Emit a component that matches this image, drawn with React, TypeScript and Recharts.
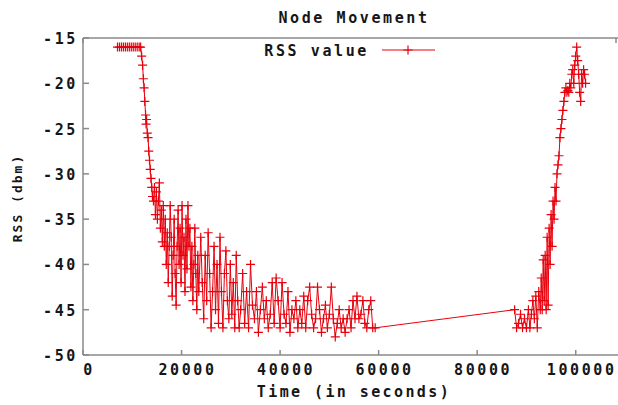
import { LineChart, Line, XAxis, YAxis } from 'recharts'

// Received signal strength logged while the node moves away and comes back
const TIME_S = [
  // parked close to the receiver
  7000, 7400, 7800, 8200, 8600, 9000, 9400, 9800, 10200, 10600, 11000, 11400, 11700, 11900,
  // moving away
  12100, 12250, 12400, 12550, 12700, 12800, 12900, 13050, 13200, 13350, 13500, 13650, 13800, 13950, 14100,
  14300, 14500, 14700, 14900, 15100, 15300, 15500, 15700, 15900, 16100,
  16300, 16500, 16700, 16900, 17100, 17300, 17500, 17700, 17900, 18100,
  18300, 18500, 18700, 18900, 19100, 19300, 19500, 19700, 19900, 20100,
  20300, 20500, 20700, 20900, 21100, 21300, 21500, 21700, 21900, 22100,
  22300, 22500, 22700, 22900, 23100, 23300, 23500,
  23900, 24200, 24500, 24800, 25100, 25400, 25700, 26000, 26300, 26600,
  26900, 27200, 27500, 27800, 28100, 28400, 28700, 29000, 29300, 29600,
  29900, 30200, 30500, 30800, 31100, 31400, 31700,
  // far end of the path
  32000, 32400, 32800, 33200, 33600, 34000, 34400, 34800, 35200, 35600,
  36000, 36400, 36800, 37200, 37600, 38000, 38400, 38800, 39200, 39600,
  40000, 40400, 40800, 41200, 41600, 42000, 42400, 42800, 43200, 43600,
  44000, 44400, 44800, 45200, 45600, 46000, 46400, 46800, 47200, 47600,
  48000, 48400, 48800, 49200, 49600, 50000, 50400, 50800, 51200, 51600,
  52000, 52400, 52800, 53200, 53600, 54000, 54400, 54800, 55200, 55600,
  56000, 56400, 56800, 57200, 57600, 58000, 58400, 58800, 59300,
  // logging resumes on the way back
  87600, 88000, 88400, 88800, 89200, 89600, 90000, 90400, 90700, 91000,
  91300, 91600, 91900, 92200, 92500, 92800, 93000, 93200, 93400, 93600,
  93800, 94000, 94200, 94400, 94600, 94800, 95000, 95200, 95400, 95600,
  95800, 96000, 96200, 96400, 96600, 96800, 97000, 97200, 97400, 97600,
  97800, 98000, 98200, 98400, 98600, 98800, 99000, 99200, 99400, 99600,
  99800, 100000, 100200, 100400, 100600, 100800, 101000, 101200, 101400, 101600,
  101800, 102000,
]

const RSS_DBM = [
  -16, -16, -16, -16, -16, -16, -16, -16, -16, -16, -16, -16, -16, -17,
  -18, -19.5, -20.5, -22, -23.5, -24.5, -24, -25.5, -26, -27.5, -28.5, -29.5, -30.5, -31.5, -32.5,
  -33, -31.5, -34.5, -32, -35, -33, -31, -36, -34, -37.5,
  -33.5, -38, -35, -40, -36.5, -42, -38, -33.5, -37, -43.5,
  -39, -35, -41, -44.5, -38, -34, -40, -36, -42, -33.5,
  -39, -37, -43, -35, -40.5, -33.5, -38, -36, -42.5, -38,
  -44, -40, -36, -41, -45, -39, -43,
  -37, -42, -46, -39, -44, -36.5, -41, -47, -43, -38,
  -45, -40, -46.5, -37, -43, -47, -41, -38.5, -44, -46,
  -40, -45.5, -42, -47, -39, -44, -47,
  -45, -41, -46.5, -43, -47, -40, -44.5, -46, -43, -47.5,
  -45, -42.5, -46, -44, -47, -45.5, -42, -46.5, -41.5, -44,
  -47, -42, -45.5, -46.5, -43, -47.5, -45, -46, -44, -47,
  -45, -46.5, -43.5, -47, -44, -42.5, -45.5, -47, -46, -42.5,
  -45, -47.5, -46, -44.5, -47, -45.5, -42.5, -46, -48, -46.5,
  -45, -47, -46, -47.5, -46, -45, -47, -44, -46, -43.5,
  -46, -45.5, -44, -46.5, -47, -45, -44, -47, -47,
  -45, -47, -46.5, -45.5, -47, -46, -47, -45, -47, -45.5,
  -44, -46, -43.5, -47, -43, -45, -41.5, -45, -39.5, -44,
  -39, -45, -37, -44.5, -36, -40, -34.5, -38, -33, -35,
  -31.5, -33, -30, -29, -28, -26, -25, -24, -23, -22,
  -21, -20.5, -21, -20.8, -21, -20, -20.5, -19, -18.5, -20,
  -18, -17, -16, -17.5, -19, -21, -22, -19, -20, -18.5,
  -19, -20,
]

const X_TICKS = [0, 20000, 40000, 60000, 80000, 100000]
const Y_TICKS = [-50, -45, -40, -35, -30, -25, -20, -15]

const data = TIME_S.map((t, i) => ({ t, rss: RSS_DBM[i] }))

const RED = '#e8000c'
const BORDER = '#8a8a8a'
const INK = '#161616'
const FONT = '"DejaVu Sans Mono", monospace'

const plusPath = (x: number, y: number, r: number) =>
  `M${x - r},${y}H${x + r}M${x},${y - r}V${y + r}`

const PlusDot = (props: any) => {
  const { cx, cy, index } = props
  if (cx == null || cy == null) return <g key={index} />
  return <path key={index} d={plusPath(cx, cy, 4.5)} stroke={RED} strokeWidth={1.2} fill="none" />
}

const BottomTick = (props: any) => {
  const { x, y, payload } = props
  return (
    <g>
      <line x1={x} y1={y} x2={x} y2={y - 5} stroke={BORDER} strokeWidth={1.5} />
      <text x={x + 6} y={y + 20} textAnchor="middle" fontFamily={FONT} fontWeight="bold"
        fontSize={15} letterSpacing={2.6} fill={INK}>
        {payload.value}
      </text>
    </g>
  )
}

const TopTick = (props: any) => {
  const { x, y } = props
  return <line x1={x} y1={y} x2={x} y2={y + 5} stroke={BORDER} strokeWidth={1.5} />
}

const LeftTick = (props: any) => {
  const { x, y, payload } = props
  return (
    <g>
      <line x1={x} y1={y} x2={x + 6} y2={y} stroke={BORDER} strokeWidth={1.5} />
      <text x={x - 5} y={y + 6} textAnchor="end" fontFamily={FONT} fontWeight="bold"
        fontSize={15} letterSpacing={2.6} fill={INK}>
        {payload.value}
      </text>
    </g>
  )
}

const labelStyle = {
  fontFamily: FONT,
  fontWeight: 'bold' as const,
  fill: INK,
}

export default function App() {
  return (
    <div style={{ position: 'absolute', left: 0, top: 0, width: 618, height: 405, overflow: 'hidden', background: '#fff' }}>
      <LineChart width={640} height={405} data={data} margin={{ top: 8, right: 15, bottom: 20, left: 23 }}>
        <XAxis
          xAxisId="bottom"
          dataKey="t"
          type="number"
          domain={[0, 110000]}
          ticks={X_TICKS}
          height={30}
          tickSize={0}
          tickMargin={0}
          tickLine={false}
          axisLine={{ stroke: BORDER, strokeWidth: 1.5 }}
          tick={BottomTick}
        />
        <XAxis
          xAxisId="top"
          orientation="top"
          type="number"
          domain={[0, 110000]}
          ticks={X_TICKS}
          height={30}
          tickSize={0}
          tickMargin={0}
          tickLine={false}
          axisLine={{ stroke: BORDER, strokeWidth: 1.5 }}
          tick={TopTick}
        />
        <YAxis
          type="number"
          domain={[-50, -15]}
          ticks={Y_TICKS}
          width={60}
          tickSize={0}
          tickMargin={0}
          tickLine={false}
          axisLine={{ stroke: BORDER, strokeWidth: 1.5 }}
          tick={LeftTick}
        />
        <Line
          xAxisId="bottom"
          type="linear"
          dataKey="rss"
          name="RSS value"
          stroke={RED}
          strokeWidth={1}
          dot={PlusDot}
          activeDot={false}
          isAnimationActive={false}
        />
      </LineChart>
      <svg width={618} height={405} style={{ position: 'absolute', left: 0, top: 0, pointerEvents: 'none' }}>
        <text x={354} y={23} textAnchor="middle" fontSize={15} letterSpacing={2.6} {...labelStyle}>
          Node Movement
        </text>
        <text x={354} y={397} textAnchor="middle" fontSize={15} letterSpacing={2.4} {...labelStyle}>
          Time (in seconds)
        </text>
        <text x={0} y={0} transform="translate(22,198) rotate(-90)" textAnchor="middle" fontSize={13}
          letterSpacing={2} {...labelStyle}>
          RSS (dbm)
        </text>
        <text x={369} y={56} textAnchor="end" fontSize={15} letterSpacing={2.6} {...labelStyle}>
          RSS value
        </text>
        <line x1={382} y1={50} x2={435} y2={50} stroke={RED} strokeWidth={1} />
        <path d={plusPath(408, 50, 4.5)} stroke={RED} strokeWidth={1.2} fill="none" />
      </svg>
    </div>
  )
}
